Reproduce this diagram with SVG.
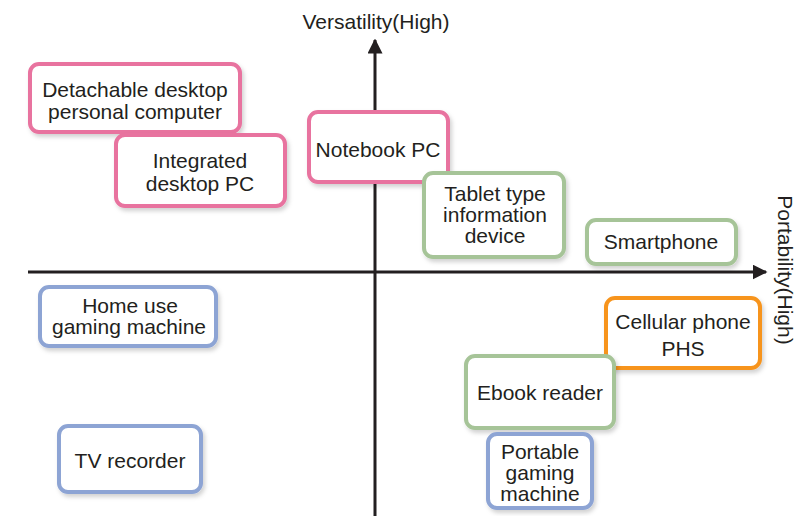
<svg xmlns="http://www.w3.org/2000/svg" width="798" height="516" viewBox="0 0 798 516">
<defs>
<filter id="sh" x="-10%" y="-10%" width="130%" height="140%">
<feDropShadow dx="2" dy="3" stdDeviation="2" flood-color="#000" flood-opacity="0.18"/>
</filter>
<marker id="ah" viewBox="0 0 10 10" refX="9" refY="5" markerWidth="5" markerHeight="5" markerUnits="strokeWidth" orient="auto">
<path d="M0,0 L10,5 L0,10 Z" fill="#231f20"/>
</marker>
</defs>
<style>
.t{font-family:"Liberation Sans",Arial,sans-serif;font-size:21px;fill:#231f20;text-anchor:middle}
.b{fill:#fff;stroke-width:4;filter:url(#sh)}
.pk{stroke:#e8739f}
.gr{stroke:#a6c498}
.bl{stroke:#8da4d4}
.or{stroke:#f7941d}
.ax{stroke:#231f20;stroke-width:3;fill:none}
</style>
<rect width="798" height="516" fill="#fff"/>
<g id="connectors">
<line class="ax" x1="375" y1="516" x2="375" y2="40" marker-end="url(#ah)"/>
<line class="ax" x1="28" y1="272" x2="766" y2="272" marker-end="url(#ah)"/>
</g>
<text class="t" x="376" y="29">Versatility(High)</text>
<text class="t" transform="translate(778,270) rotate(90)" x="0" y="0">Portability(High)</text>
<g id="detachable">
<rect class="b pk" x="30" y="64" width="210" height="68" rx="9"/>
<text class="t" x="135" y="97">Detachable desktop</text>
<text class="t" x="135" y="119">personal computer</text>
</g>
<g id="integrated">
<rect class="b pk" x="116" y="135" width="169" height="71" rx="9"/>
<text class="t" x="200" y="168">Integrated</text>
<text class="t" x="200" y="191">desktop PC</text>
</g>
<g id="notebook">
<rect class="b pk" x="309" y="112" width="139" height="70" rx="9"/>
<text class="t" x="378" y="157">Notebook PC</text>
</g>
<g id="tablet">
<rect class="b gr" x="424" y="173" width="140" height="84" rx="9"/>
<text class="t" x="495" y="201">Tablet type</text>
<text class="t" x="495" y="222">information</text>
<text class="t" x="495" y="243">device</text>
</g>
<g id="smartphone">
<rect class="b gr" x="587" y="220" width="149" height="44" rx="9"/>
<text class="t" x="661" y="249">Smartphone</text>
</g>
<g id="homegaming">
<rect class="b bl" x="40" y="287" width="176" height="59" rx="9"/>
<text class="t" x="130" y="313">Home use</text>
<text class="t" x="129" y="334">gaming machine</text>
</g>
<g id="cellular">
<rect class="b or" x="606" y="298" width="154" height="70" rx="9"/>
<text class="t" x="683" y="329">Cellular phone</text>
<text class="t" x="683" y="356">PHS</text>
</g>
<g id="ebook">
<rect class="b gr" x="466" y="356" width="148" height="72" rx="9"/>
<text class="t" x="540" y="400">Ebook reader</text>
</g>
<g id="portablegaming">
<rect class="b bl" x="488" y="434" width="104" height="74" rx="9"/>
<text class="t" x="540" y="459">Portable</text>
<text class="t" x="540" y="480">gaming</text>
<text class="t" x="540" y="501">machine</text>
</g>
<g id="tvrecorder">
<rect class="b bl" x="59" y="426" width="142" height="66" rx="9"/>
<text class="t" x="130" y="468">TV recorder</text>
</g>
</svg>
